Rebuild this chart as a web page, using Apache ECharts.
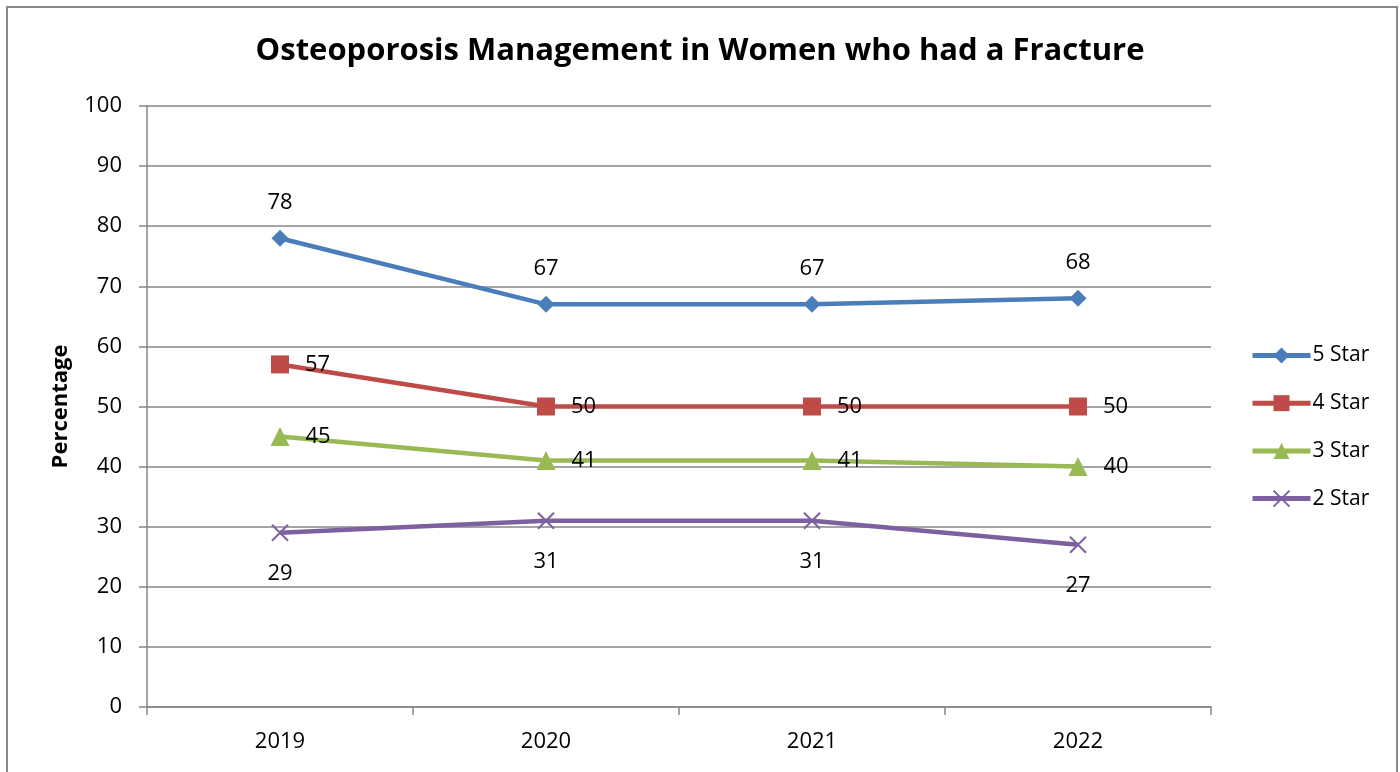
<!DOCTYPE html>
<html>
<head>
<meta charset="utf-8">
<script src="https://cdn.jsdelivr.net/npm/echarts@6/dist/echarts.min.js"></script>
<style>
  html, body { margin: 0; padding: 0; background: #fff; }
  #main { width: 1400px; height: 772px; }
</style>
</head>
<body>
<div id="main"></div>
<script>
// 数据
var years = ['2019', '2020', '2021', '2022'];
var star5 = [78, 67, 67, 68];
var star4 = [57, 50, 50, 50];
var star3 = [45, 41, 41, 40];
var star2 = [29, 31, 31, 27];
var yTicks = [0, 10, 20, 30, 40, 50, 60, 70, 80, 90, 100];

var font = '"Open Sans", "Noto Sans", sans-serif';
var grey = '#868686';

function line(name, data, color, symbol, size, labelPos, dist) {
    return {
        name: name,
        type: 'line',
        data: data,
        symbol: symbol,
        symbolSize: size,
        lineStyle: { color: color, width: 4.5 },
        itemStyle: { color: color, borderColor: color, borderWidth: symbol.indexOf('path') === 0 ? 2 : 0 },
        label: {
            show: true,
            position: labelPos,
            distance: dist,
            color: '#000',
            fontFamily: font,
            fontSize: 22
        }
    };
}

var option = {
    backgroundColor: '#fff',
    animation: false,
    title: {
        text: 'Osteoporosis Management in Women who had a Fracture',
        left: 'center',
        top: 31,
        textStyle: { fontFamily: font, fontSize: 31, fontWeight: 'bold', color: '#000' }
    },
    legend: {
        orient: 'vertical',
        left: 1245,
        top: 340,
        itemWidth: 58,
        itemHeight: 20,
        itemGap: 26.7,
        lineStyle: { width: 5 },
        textStyle: { fontFamily: font, fontSize: 21, color: '#000', padding: [0, 0, 0, -3] },
        data: ['5 Star', '4 Star', '3 Star', '2 Star']
    },
    grid: { left: 147, right: 189, top: 106, bottom: 65 },
    xAxis: {
        type: 'category',
        data: years,
        axisLine: { lineStyle: { color: grey, width: 1.5 } },
        axisTick: { show: true, length: 8, lineStyle: { color: grey, width: 1.5 } },
        axisLabel: { margin: 24, fontFamily: font, fontSize: 22, color: '#000' }
    },
    yAxis: {
        type: 'value',
        min: yTicks[0],
        max: yTicks[yTicks.length - 1],
        interval: 10,
        name: 'Percentage',
        nameLocation: 'middle',
        nameGap: 75,
        nameTextStyle: { fontFamily: font, fontSize: 22, fontWeight: 'bold', color: '#000' },
        axisLine: { show: true, lineStyle: { color: grey, width: 1.5 } },
        axisTick: { show: true, length: 8, lineStyle: { color: grey, width: 1.5 } },
        axisLabel: { margin: 25, fontFamily: font, fontSize: 22, color: '#000' },
        splitLine: { lineStyle: { color: grey, width: 1.5 } }
    },
    graphic: [{
        type: 'rect',
        shape: { x: 7, y: 7, width: 1390, height: 800 },
        style: { fill: 'none', stroke: '#888', lineWidth: 2 },
        silent: true
    }],
    series: [
        line('5 Star', star5, '#4A7EBB', 'diamond', 17, 'top', 16),
        line('4 Star', star4, '#BE4B48', 'rect', 18, 'right', 16),
        line('3 Star', star3, '#98B954', 'triangle', 19, 'right', 16),
        line('2 Star', star2, '#7D60A0', 'path://M0,0L10,10M10,0L0,10', 16, 'bottom', 21)
    ]
};

var chart = echarts.init(document.getElementById('main'));
chart.setOption(option);
</script>
</body>
</html>
